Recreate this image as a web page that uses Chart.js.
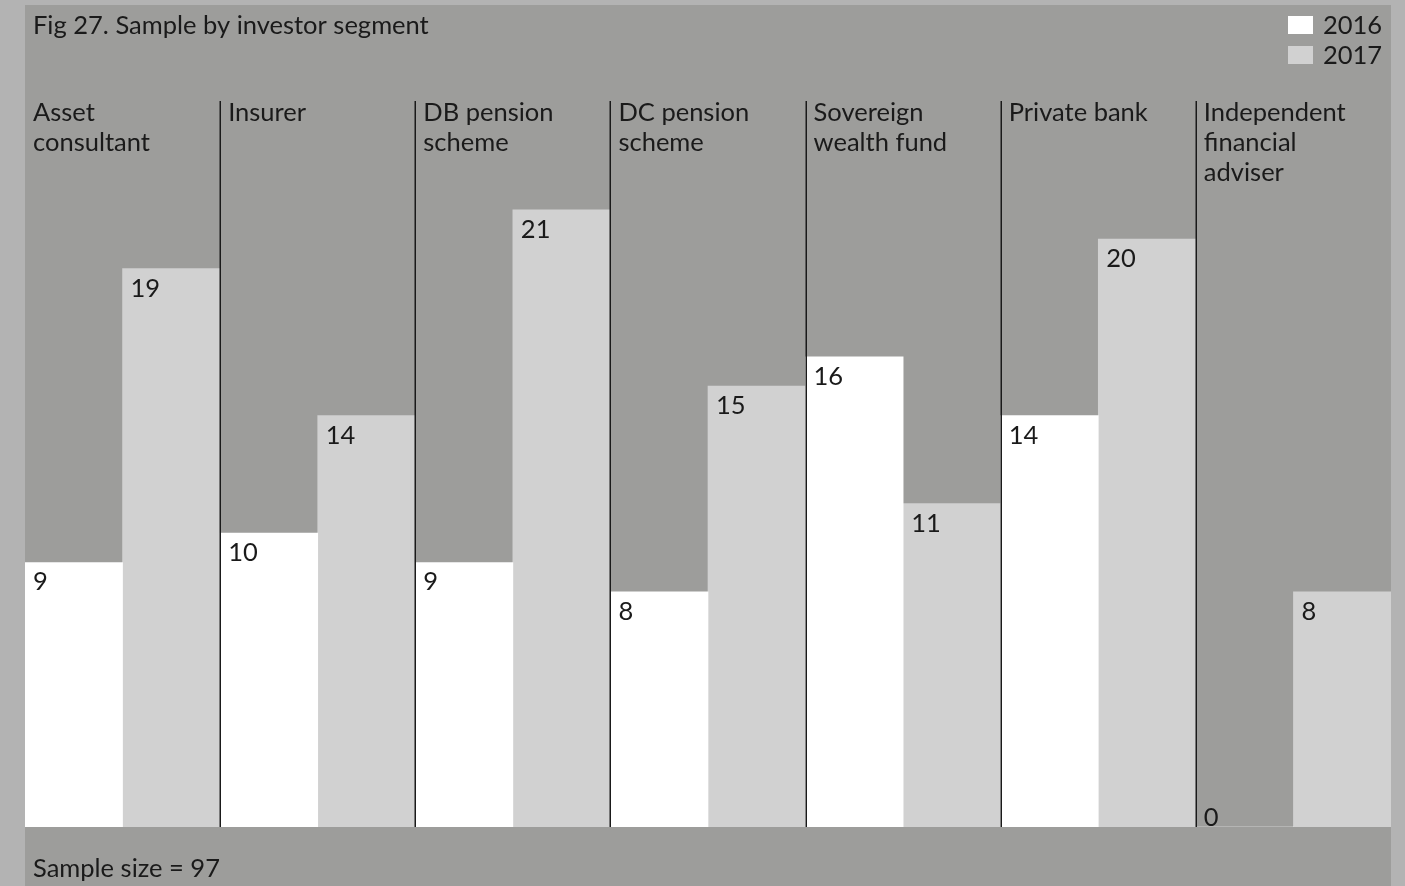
<!DOCTYPE html>
<html>
<head>
<meta charset="utf-8">
<script src="https://cdn.jsdelivr.net/npm/chart.js@4.4.1/dist/chart.umd.min.js"></script>
<style>
  html, body { margin: 0; padding: 0; background: #b3b3b3; }
  #wrap { width: 1405px; height: 886px; }
</style>
</head>
<body>
<div id="wrap"><canvas id="segChart" width="1405" height="886"></canvas></div>
<script>
// data
const categories = [
  ['Asset', 'consultant'],
  ['Insurer'],
  ['DB pension', 'scheme'],
  ['DC pension', 'scheme'],
  ['Sovereign', 'wealth fund'],
  ['Private bank'],
  ['Independent', 'financial', 'adviser']
];
const values2016 = [9, 10, 9, 8, 16, 14, 0];
const values2017 = [19, 14, 21, 15, 11, 20, 8];
const seriesNames = ['2016', '2017'];
const titleText = 'Fig 27. Sample by investor segment';
const noteText = 'Sample size = 97';

const FONT = 'Lato, "Open Sans", sans-serif';
const INK = '#1a1a1a';

// panel, dividers, labels, legend
const decorPlugin = {
  id: 'decor',
  beforeDraw(chart) {
    const ctx = chart.ctx;
    ctx.save();
    ctx.fillStyle = '#b3b3b3';
    ctx.fillRect(0, 0, chart.width, chart.height);
    ctx.fillStyle = '#9d9d9b';
    ctx.fillRect(25, 5, 1366, chart.height - 5);
    ctx.restore();
  },
  afterDatasetsDraw(chart) {
    const ctx = chart.ctx;
    const area = chart.chartArea;
    const xs = chart.scales.x;
    const n = categories.length;
    const step = (area.right - area.left) / n;
    ctx.save();

    // vertical separators between segments
    ctx.strokeStyle = INK;
    ctx.lineWidth = 1.5;
    for (let i = 1; i < n; i++) {
      const x = Math.round(xs.getPixelForValue(i) - step / 2) + 0.25;
      ctx.beginPath();
      ctx.moveTo(x, area.top);
      ctx.lineTo(x, area.bottom);
      ctx.stroke();
    }

    // segment names
    ctx.fillStyle = INK;
    ctx.font = '25.5px ' + FONT;
    ctx.textBaseline = 'alphabetic';
    ctx.textAlign = 'left';
    categories.forEach((lines, i) => {
      const x = xs.getPixelForValue(i) - step / 2 + 8;
      lines.forEach((t, j) => ctx.fillText(t, x, area.top + 20 + j * 30));
    });

    // value labels inside bars
    chart.data.datasets.forEach((ds, di) => {
      const meta = chart.getDatasetMeta(di);
      meta.data.forEach((bar, i) => {
        const v = ds.data[i];
        const left = bar.x - bar.width / 2 + 8;
        const y = v === 0 ? bar.base - 1 : bar.y + 28;
        ctx.fillText(String(v), left, y);
      });
    });

    // title and note
    ctx.fillText(titleText, 33, 34);
    ctx.fillText(noteText, 33, 877);

    // legend
    chart.data.datasets.forEach((ds, di) => {
      const y = 16 + di * 30;
      ctx.fillStyle = ds.backgroundColor;
      ctx.fillRect(1288, y, 25, 18);
      ctx.fillStyle = INK;
      ctx.fillText(ds.label, 1323, y + 18);
    });
    ctx.restore();
  }
};

new Chart(document.getElementById('segChart'), {
  type: 'bar',
  data: {
    labels: categories.map(c => c.join(' ')),
    datasets: [
      { label: seriesNames[0], data: values2016, backgroundColor: '#ffffff' },
      { label: seriesNames[1], data: values2017, backgroundColor: '#d1d1d1' }
    ]
  },
  options: {
    responsive: false,
    animation: false,
    layout: { padding: { left: 25, right: 14, top: 101, bottom: 59 } },
    datasets: { bar: { categoryPercentage: 1, barPercentage: 1, borderWidth: 0 } },
    scales: {
      x: { display: false },
      y: { display: false, min: 0, max: 24.7 }
    },
    plugins: {
      legend: { display: false },
      tooltip: { enabled: false }
    }
  },
  plugins: [decorPlugin]
});
</script>
</body>
</html>
